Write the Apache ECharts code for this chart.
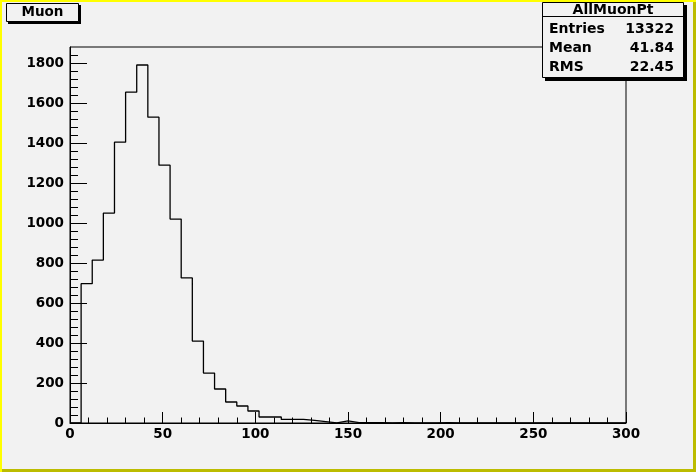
<!DOCTYPE html>
<html>
<head>
<meta charset="utf-8">
<script src="https://cdn.jsdelivr.net/npm/echarts@6/dist/echarts.min.js"></script>
<style>
html,body{margin:0;padding:0;background:#f2f2f2;}
#chart{width:696px;height:472px;}
</style>
</head>
<body>
<div id="chart"></div>
<script>
// Histogram: 50 bins of width 6 over 0..300
var binWidth = 6;
var counts = [0, 697, 815, 1050, 1405, 1655, 1791, 1530, 1290, 1020,
              726, 410, 250, 170, 105, 85, 60, 30, 30, 18,
              18, 13, 7, 1, 11, 2, 2, 2, 0, 2,
              0, 0, 0, 2, 0, 0, 0, 0, 0, 0,
              0, 0, 0, 0, 0, 0, 0, 0, 0, 0];
var xTicks = [0, 50, 100, 150, 200, 250, 300];
var yTicks = [0, 200, 400, 600, 800, 1000, 1200, 1400, 1600, 1800];
var yMinorTicks = [];
for (var v = 40; v <= 1840; v += 40) { if (v % 200 !== 0) yMinorTicks.push(v); }
var histTitle = 'Muon';
var statsName = 'AllMuonPt';
var statsRows = [['Entries', '13322'], ['Mean', '41.84'], ['RMS', '22.45']];

var stepData = counts.map(function (c, i) { return [i * binWidth, c]; });
stepData.push([counts.length * binWidth, 0]);

var FONT = 'DejaVu Sans';
var chart = echarts.init(document.getElementById('chart'), null, {renderer: 'canvas'});

var graphics = [
  // canvas border
  {type: 'rect', shape: {x: 0, y: 469, width: 696, height: 3}, style: {fill: '#bcbc00'}, z: 100},
  {type: 'rect', shape: {x: 693, y: 0, width: 3, height: 472}, style: {fill: '#bcbc00'}, z: 100},
  {type: 'rect', shape: {x: 0, y: 0, width: 696, height: 2}, style: {fill: '#ffff00'}, z: 101},
  {type: 'rect', shape: {x: 0, y: 0, width: 2, height: 472}, style: {fill: '#ffff00'}, z: 101},
  // title box
  {type: 'rect', shape: {x: 8, y: 5, width: 73, height: 19}, style: {fill: '#000'}, z: 100},
  {type: 'rect', shape: {x: 6.5, y: 3.5, width: 72, height: 18}, style: {fill: '#f2f2f2', stroke: '#000', lineWidth: 1}, z: 101},
  {type: 'text', x: 42.5, y: 12.5, style: {text: histTitle, font: 'bold 13.5px ' + FONT, fill: '#000', align: 'center', verticalAlign: 'middle'}, z: 102},
  // stats box
  {type: 'rect', shape: {x: 545, y: 5, width: 142, height: 76}, style: {fill: '#000'}, z: 100},
  {type: 'rect', shape: {x: 542.5, y: 2.5, width: 141, height: 75}, style: {fill: '#f2f2f2', stroke: '#000', lineWidth: 1}, z: 101},
  {type: 'line', shape: {x1: 542.5, y1: 16.5, x2: 683.5, y2: 16.5}, style: {stroke: '#000', lineWidth: 1}, z: 102},
  {type: 'text', x: 613, y: 10, style: {text: statsName, font: 'bold 14px ' + FONT, fill: '#000', align: 'center', verticalAlign: 'middle'}, z: 102}
];
var rowY = [29.5, 48, 67];
statsRows.forEach(function (r, i) {
  graphics.push({type: 'text', x: 549, y: rowY[i], style: {text: r[0], font: 'bold 14px ' + FONT, fill: '#000', align: 'left', verticalAlign: 'middle'}, z: 102});
  graphics.push({type: 'text', x: 674, y: rowY[i], style: {text: r[1], font: 'bold 14px ' + FONT, fill: '#000', align: 'right', verticalAlign: 'middle'}, z: 102});
});

var option = {
  backgroundColor: '#f2f2f2',
  animation: false,
  grid: {left: 70, right: 70, top: 47, bottom: 49, show: true, borderColor: '#000', borderWidth: 1, backgroundColor: 'transparent'},
  xAxis: {
    type: 'value', min: 0, max: 300, interval: 50,
    axisLine: {show: true, lineStyle: {color: '#000', width: 1}},
    axisTick: {show: true, inside: true, length: 11, lineStyle: {color: '#000'}, customValues: xTicks},
    minorTick: {show: true, splitNumber: 5, length: 5.5, lineStyle: {color: '#000'}},
    axisLabel: {color: '#000', fontFamily: FONT, fontWeight: 'bold', fontSize: 13.5, margin: 4, customValues: xTicks,
      formatter: function (v) { return String(v); }},
    splitLine: {show: false}, minorSplitLine: {show: false}
  },
  yAxis: [{
    type: 'value', min: 0, max: 1881, interval: 200, position: 'left',
    axisLine: {show: true, lineStyle: {color: '#000', width: 1}},
    axisTick: {show: true, inside: true, length: 17, lineStyle: {color: '#000'}, customValues: yTicks},
    axisLabel: {color: '#000', fontFamily: FONT, fontWeight: 'bold', fontSize: 13.5, margin: 6, customValues: yTicks,
      formatter: function (v) { return String(v); }},
    splitLine: {show: false}
  }, {
    type: 'value', min: 0, max: 1881, position: 'left', offset: 0,
    axisLine: {show: false},
    axisTick: {show: true, inside: true, length: 8, lineStyle: {color: '#000'}, customValues: yMinorTicks},
    axisLabel: {show: false},
    splitLine: {show: false}
  }],
  series: [{
    type: 'line', step: 'end', data: stepData, yAxisIndex: 0,
    symbol: 'none', showSymbol: false,
    lineStyle: {color: '#000', width: 1.3}, silent: true, z: 3
  }],
  graphic: graphics
};
chart.setOption(option);
</script>
</body>
</html>
